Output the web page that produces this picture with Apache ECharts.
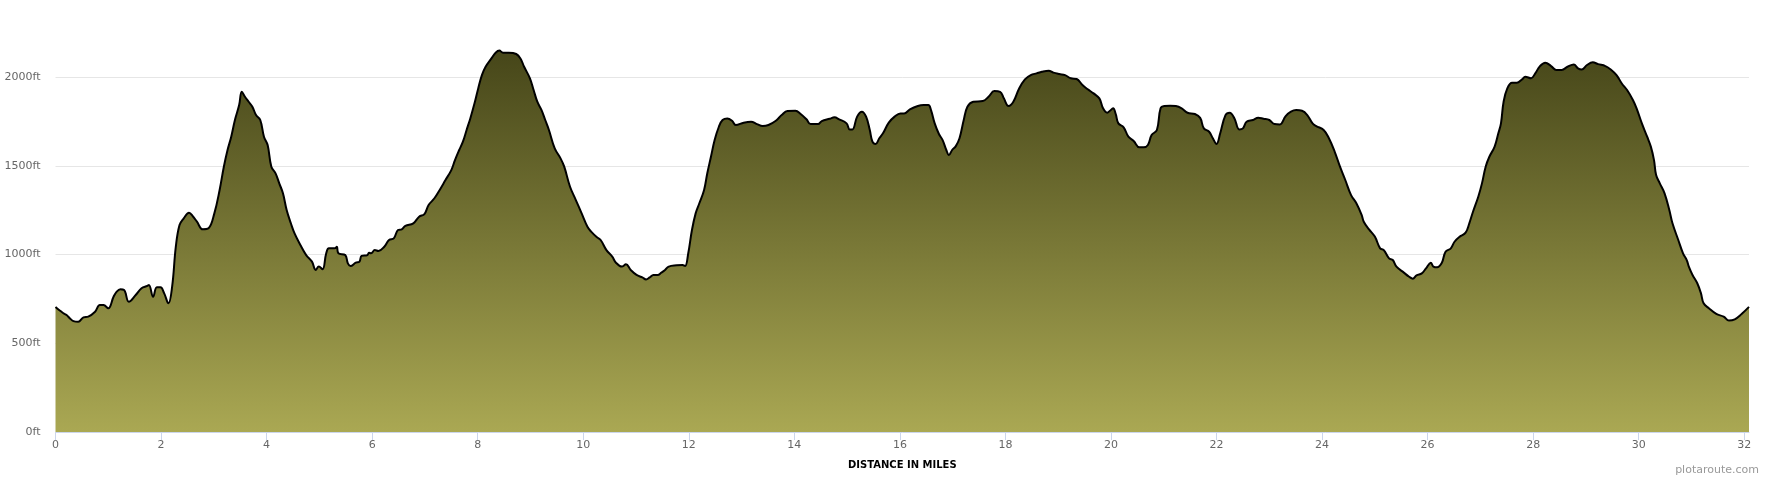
<!DOCTYPE html>
<html>
<head>
<meta charset="utf-8">
<title>Elevation profile</title>
<script src="https://cdn.jsdelivr.net/npm/echarts@6/dist/echarts.min.js"></script>
<style>
html, body {
  margin: 0;
  padding: 0;
  background: #fff;
}
#elevationChart {
  width: 1770px;
  height: 480px;
}
</style>
</head>
<body>
<div id="elevationChart"></div>
<script>
// distance along the route (miles)
const distance = [
  0.00, 0.08, 0.15, 0.21, 0.28, 0.34, 0.43, 0.53, 0.62, 0.75, 0.84, 0.91, 1.00, 1.10, 1.16, 1.23, 1.30, 1.39, 1.52, 1.63,
  1.74, 1.77, 1.85, 1.92, 1.99, 2.06, 2.14, 2.21, 2.28, 2.35, 2.43, 2.53, 2.61, 2.68, 2.79, 2.90, 3.01, 3.11, 3.19, 3.26,
  3.33, 3.40, 3.48, 3.53, 3.59, 3.66, 3.73, 3.80, 3.88, 3.95, 4.02, 4.09, 4.17, 4.24, 4.31, 4.38, 4.46, 4.53, 4.64, 4.75,
  4.86, 4.93, 4.99, 5.06, 5.13, 5.18, 5.29, 5.33, 5.36, 5.49, 5.54, 5.59, 5.69, 5.76, 5.80, 5.91, 5.94, 5.98, 6.05, 6.12,
  6.23, 6.32, 6.41, 6.49, 6.56, 6.63, 6.78, 6.89, 6.99, 7.07, 7.18, 7.28, 7.39, 7.50, 7.57, 7.65, 7.72, 7.79, 7.86, 7.94,
  8.01, 8.08, 8.15, 8.26, 8.34, 8.41, 8.48, 8.59, 8.73, 8.81, 8.88, 8.99, 9.06, 9.13, 9.21, 9.28, 9.35, 9.46, 9.57, 9.64,
  9.75, 9.86, 9.97, 10.08, 10.15, 10.26, 10.33, 10.44, 10.55, 10.62, 10.73, 10.81, 10.90, 11.01, 11.12, 11.19, 11.26, 11.33, 11.41, 11.48,
  11.55, 11.62, 11.77, 11.88, 11.93, 11.99, 12.06, 12.13, 12.20, 12.29, 12.35, 12.42, 12.49, 12.57, 12.64, 12.73, 12.82, 12.89, 13.04, 13.18,
  13.29, 13.40, 13.51, 13.65, 13.76, 13.87, 14.02, 14.12, 14.23, 14.31, 14.45, 14.52, 14.67, 14.76, 14.85, 14.99, 15.05, 15.10, 15.19, 15.28,
  15.36, 15.43, 15.48, 15.54, 15.61, 15.68, 15.79, 15.90, 16.01, 16.08, 16.19, 16.34, 16.45, 16.54, 16.59, 16.66, 16.74, 16.81, 16.88, 16.93,
  16.99, 17.06, 17.13, 17.21, 17.28, 17.39, 17.57, 17.68, 17.79, 17.90, 17.97, 18.06, 18.15, 18.26, 18.37, 18.48, 18.59, 18.69, 18.82, 18.91,
  19.02, 19.13, 19.24, 19.35, 19.46, 19.56, 19.67, 19.78, 19.85, 19.93, 19.98, 20.04, 20.09, 20.14, 20.24, 20.33, 20.43, 20.54, 20.62, 20.70,
  20.77, 20.87, 20.94, 21.01, 21.12, 21.23, 21.34, 21.45, 21.59, 21.69, 21.76, 21.86, 21.93, 22.00, 22.07, 22.17, 22.25, 22.34, 22.43, 22.50,
  22.57, 22.69, 22.79, 22.89, 23.00, 23.10, 23.20, 23.31, 23.41, 23.51, 23.62, 23.72, 23.82, 23.89, 24.03, 24.13, 24.24, 24.34, 24.44, 24.55,
  24.65, 24.75, 24.79, 24.89, 25.00, 25.10, 25.17, 25.27, 25.34, 25.41, 25.55, 25.65, 25.72, 25.79, 25.89, 25.97, 26.06, 26.11, 26.18, 26.27,
  26.34, 26.44, 26.51, 26.61, 26.72, 26.79, 26.86, 26.96, 27.03, 27.10, 27.17, 27.27, 27.34, 27.39, 27.44, 27.51, 27.60, 27.69, 27.79, 27.85,
  27.96, 28.04, 28.13, 28.23, 28.34, 28.44, 28.54, 28.65, 28.77, 28.85, 28.92, 29.02, 29.13, 29.23, 29.37, 29.47, 29.58, 29.68, 29.78, 29.89,
  29.96, 30.06, 30.16, 30.23, 30.29, 30.33, 30.40, 30.49, 30.58, 30.64, 30.75, 30.84, 30.91, 30.95, 31.02, 31.11, 31.18, 31.23, 31.33, 31.47,
  31.61, 31.71, 31.82, 31.95, 32.09
]
// elevation (ft), one per distance
const elevation = [
  705, 685, 669, 659, 638, 625, 621, 646, 650, 678, 715, 715, 697, 762, 791, 804, 800, 734, 772, 810,
  823, 828, 762, 815, 815, 781, 725, 819, 1044, 1166, 1204, 1236, 1213, 1185, 1142, 1148, 1232, 1364, 1495, 1589,
  1664, 1758, 1842, 1917, 1889, 1861, 1833, 1786, 1758, 1664, 1617, 1495, 1457, 1401, 1345, 1251, 1176, 1119, 1054, 997,
  960, 913, 932, 917, 1007, 1035, 1035, 1044, 1007, 997, 950, 935, 954, 960, 992, 997, 1010, 1007, 1025, 1020,
  1044, 1082, 1091, 1138, 1142, 1161, 1176, 1213, 1228, 1279, 1317, 1364, 1420, 1476, 1532, 1589, 1636, 1702, 1767, 1852,
  1936, 2011, 2058, 2105, 2137, 2149, 2137, 2137, 2130, 2105, 2058, 1993, 1927, 1861, 1814, 1758, 1702, 1598, 1542, 1495,
  1382, 1307, 1232, 1157, 1129, 1097, 1082, 1025, 988, 954, 932, 945, 913, 885, 871, 860, 871, 885, 885, 898,
  913, 932, 939, 941, 935, 1007, 1138, 1232, 1289, 1364, 1457, 1551, 1645, 1720, 1758, 1767, 1754, 1730, 1743, 1748,
  1735, 1724, 1730, 1754, 1786, 1809, 1810, 1792, 1762, 1735, 1735, 1752, 1765, 1773, 1762, 1739, 1705, 1705, 1777, 1805,
  1777, 1702, 1636, 1623, 1655, 1683, 1743, 1777, 1795, 1795, 1818, 1837, 1842, 1842, 1814, 1739, 1679, 1645, 1589, 1561,
  1589, 1611, 1655, 1758, 1833, 1861, 1865, 1889, 1921, 1917, 1880, 1837, 1861, 1936, 1987, 2011, 2021, 2030, 2036, 2025,
  2017, 2011, 1993, 1989, 1955, 1931, 1908, 1880, 1824, 1799, 1810, 1824, 1792, 1739, 1717, 1664, 1640, 1604, 1604, 1617,
  1673, 1702, 1824, 1837, 1839, 1837, 1824, 1799, 1792, 1770, 1711, 1692, 1655, 1623, 1683, 1786, 1799, 1767, 1705, 1711,
  1748, 1758, 1771, 1765, 1758, 1735, 1733, 1780, 1805, 1814, 1810, 1786, 1739, 1724, 1702, 1655, 1579, 1495, 1420, 1335,
  1289, 1223, 1185, 1142, 1101, 1035, 1025, 978, 969, 932, 898, 875, 864, 883, 894, 922, 954, 932, 928, 954,
  1016, 1035, 1072, 1101, 1123, 1176, 1241, 1326, 1401, 1495, 1551, 1608, 1683, 1739, 1861, 1936, 1968, 1968, 1987, 2002,
  1993, 2021, 2062, 2081, 2062, 2040, 2040, 2058, 2071, 2049, 2043, 2068, 2083, 2073, 2062, 2043, 2011, 1964, 1927, 1871,
  1824, 1739, 1664, 1608, 1532, 1448, 1401, 1345, 1251, 1176, 1082, 1007, 969, 932, 885, 838, 781, 725, 697, 665,
  650, 628, 635, 665, 705
]
// axis ticks
const xTicks = [0, 2, 4, 6, 8, 10, 12, 14, 16, 18, 20, 22, 24, 26, 28, 30, 32]
const yTicks = [0, 500, 1000, 1500, 2000]

const labelFont = "'DejaVu Sans', Verdana, sans-serif"

let chart = null
const initChart = () => {
  const el = document.getElementById("elevationChart")
  chart = echarts.init(el, null, { renderer: "canvas" })

  const points = distance.map((d, i) => [d, elevation[i]])

  chart.setOption({
    animation: false,
    backgroundColor: "#ffffff",
    grid: {
      left: 55.5,
      right: 21,
      top: 32.7,
      bottom: 48
    },
    xAxis: {
      type: "value",
      min: 0,
      max: distance[distance.length - 1],
      interval: 2,
      name: "DISTANCE IN MILES",
      nameLocation: "middle",
      nameGap: 28,
      nameTextStyle: {
        color: "#000",
        fontWeight: "bold",
        fontSize: 10,
        fontFamily: labelFont
      },
      axisLine: { lineStyle: { color: "#ccd6eb", width: 1 } },
      axisTick: {
        length: 8,
        customValues: xTicks,
        lineStyle: { color: "#ccd6eb" }
      },
      axisLabel: {
        customValues: xTicks,
        color: "#666",
        fontSize: 11,
        fontFamily: labelFont,
        margin: 8
      },
      splitLine: { show: false }
    },
    yAxis: {
      type: "value",
      min: 0,
      max: 2250,
      interval: 500,
      axisLine: { show: false },
      axisTick: { show: false },
      axisLabel: {
        customValues: yTicks,
        // no thousands separator, e.g. 2000ft
        formatter: (v) => v + "ft",
        color: "#666",
        fontSize: 11,
        fontFamily: labelFont,
        margin: 15
      },
      splitLine: {
        showMaxLine: false,
        showMinLine: false,
        lineStyle: { color: "#e6e6e6", width: 1 }
      }
    },
    series: [
      {
        type: "line",
        data: points,
        smooth: 0.4,
        symbol: "none",
        lineStyle: { color: "#000", width: 2 },
        areaStyle: {
          opacity: 1,
          color: new echarts.graphic.LinearGradient(0, 0, 0, 1, [
            { offset: 0, color: "#464619" },
            { offset: 1, color: "#aaa853" }
          ])
        }
      }
    ],
    graphic: [
      {
        type: "text",
        right: 11,
        top: 465,
        style: {
          text: "plotaroute.com",
          fill: "#999",
          fontSize: 11,
          fontFamily: labelFont
        }
      }
    ]
  })
}

initChart()
</script>
</body>
</html>
